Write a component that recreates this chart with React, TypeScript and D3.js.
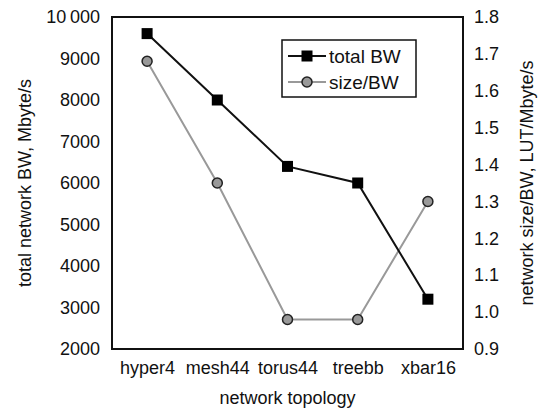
import React, { useRef, useEffect } from 'react';
import * as d3 from 'd3';

// data
const topologies = ['hyper4', 'mesh44', 'torus44', 'treebb', 'xbar16'];
const totalBW = [9600, 8000, 6400, 6000, 3200];
const sizePerBW = [1.68, 1.35, 0.98, 0.98, 1.30];
const leftTicks = [2000, 3000, 4000, 5000, 6000, 7000, 8000, 9000, 10000];
const rightTicks = [0.9, 1.0, 1.1, 1.2, 1.3, 1.4, 1.5, 1.6, 1.7, 1.8];
const seriesNames = ['total BW', 'size/BW'];

const App = () => {
  const ref = useRef<SVGSVGElement>(null);

  useEffect(() => {
    const width = 539;
    const height = 410;
    const marginTop = 17;
    const marginRight = 76;
    const marginBottom = 61;
    const marginLeft = 112;
    const font = 'Liberation Sans, Arial, sans-serif';
    const fs = 18;

    const svg = d3.select(ref.current);
    svg.selectAll('*').remove();

    const x = d3.scalePoint<string>()
      .domain(topologies)
      .range([marginLeft, width - marginRight])
      .padding(0.5);

    const yLeft = d3.scaleLinear()
      .domain([2000, 10000])
      .range([height - marginBottom, marginTop]);

    const yRight = d3.scaleLinear()
      .domain([0.9, 1.8])
      .range([height - marginBottom, marginTop]);

    // frame
    svg.append('rect')
      .attr('x', marginLeft)
      .attr('y', marginTop)
      .attr('width', width - marginLeft - marginRight)
      .attr('height', height - marginTop - marginBottom)
      .attr('fill', 'white')
      .attr('stroke', '#111')
      .attr('stroke-width', 2);

    // left axis labels
    const fmtLeft = (d: number) => (d >= 10000 ? '10\u2009000' : String(d));
    svg.append('g')
      .attr('transform', `translate(${marginLeft},0)`)
      .call(d3.axisLeft(yLeft).tickValues(leftTicks).tickSize(0).tickPadding(12).tickFormat(d => fmtLeft(+d)))
      .call(g => g.select('.domain').remove())
      .call(g => g.selectAll('text').attr('font-size', fs).attr('font-family', font).attr('fill', '#111'));

    // right axis labels
    svg.append('g')
      .attr('transform', `translate(${width - marginRight},0)`)
      .call(d3.axisRight(yRight).tickValues(rightTicks).tickSize(0).tickPadding(11).tickFormat(d3.format('.1f')))
      .call(g => g.select('.domain').remove())
      .call(g => g.selectAll('text').attr('font-size', fs).attr('font-family', font).attr('fill', '#111'));

    // x axis labels
    svg.append('g')
      .attr('transform', `translate(0,${height - marginBottom})`)
      .call(d3.axisBottom(x).tickSize(0).tickPadding(12))
      .call(g => g.select('.domain').remove())
      .call(g => g.selectAll('text').attr('font-size', fs).attr('font-family', font).attr('fill', '#111'));

    // axis titles
    svg.append('text')
      .attr('x', (marginLeft + width - marginRight) / 2)
      .attr('y', 404)
      .attr('text-anchor', 'middle')
      .attr('font-size', fs)
      .attr('font-family', font)
      .attr('fill', '#111')
      .text('network topology');

    svg.append('text')
      .attr('transform', `translate(31,${(marginTop + height - marginBottom) / 2}) rotate(-90)`)
      .attr('text-anchor', 'middle')
      .attr('font-size', fs)
      .attr('font-family', font)
      .attr('fill', '#111')
      .text('total network BW, Mbyte/s');

    svg.append('text')
      .attr('transform', `translate(533,${(marginTop + height - marginBottom) / 2}) rotate(-90)`)
      .attr('text-anchor', 'middle')
      .attr('font-size', fs)
      .attr('font-family', font)
      .attr('fill', '#111')
      .text('network size/BW, LUT/Mbyte/s');

    // size/BW line (gray)
    const lineRight = d3.line<number>()
      .x((d, i) => x(topologies[i])!)
      .y(d => yRight(d));

    svg.append('path')
      .attr('fill', 'none')
      .attr('stroke', '#999')
      .attr('stroke-width', 2)
      .attr('d', lineRight(sizePerBW));

    // total BW line (black)
    const lineLeft = d3.line<number>()
      .x((d, i) => x(topologies[i])!)
      .y(d => yLeft(d));

    svg.append('path')
      .attr('fill', 'none')
      .attr('stroke', '#111')
      .attr('stroke-width', 2)
      .attr('d', lineLeft(totalBW));

    svg.selectAll()
      .data(sizePerBW)
      .enter()
      .append('circle')
        .attr('cx', (d, i) => x(topologies[i])!)
        .attr('cy', d => yRight(d))
        .attr('r', 5)
        .attr('fill', '#999')
        .attr('stroke', '#222')
        .attr('stroke-width', 1.5);

    svg.selectAll()
      .data(totalBW)
      .enter()
      .append('rect')
        .attr('x', (d, i) => x(topologies[i])! - 5.5)
        .attr('y', d => yLeft(d) - 5.5)
        .attr('width', 11)
        .attr('height', 11)
        .attr('fill', '#000');

    // legend
    const legend = svg.append('g').attr('transform', 'translate(282,40)');
    legend.append('rect')
      .attr('width', 134)
      .attr('height', 57)
      .attr('fill', 'white')
      .attr('stroke', '#111')
      .attr('stroke-width', 1.5);

    seriesNames.forEach((name, i) => {
      const yy = 16 + i * 26;
      const row = legend.append('g').attr('transform', `translate(0,${yy})`);
      row.append('line')
        .attr('x1', 6).attr('x2', 44)
        .attr('stroke', i === 0 ? '#111' : '#999')
        .attr('stroke-width', 2);
      if (i === 0) {
        row.append('rect').attr('x', 19.5).attr('y', -5.5).attr('width', 11).attr('height', 11).attr('fill', '#000');
      } else {
        row.append('circle').attr('cx', 25).attr('r', 5).attr('fill', '#999').attr('stroke', '#222').attr('stroke-width', 1.5);
      }
      row.append('text')
        .attr('x', 47)
        .attr('dy', '0.35em')
        .attr('font-size', 19)
        .attr('font-family', font)
        .attr('fill', '#111')
        .text(name);
    });
  }, []);

  return (
    <svg width={539} height={410} ref={ref} style={{ position: 'absolute', left: 0, top: 0 }} />
  );
};

export default App;
